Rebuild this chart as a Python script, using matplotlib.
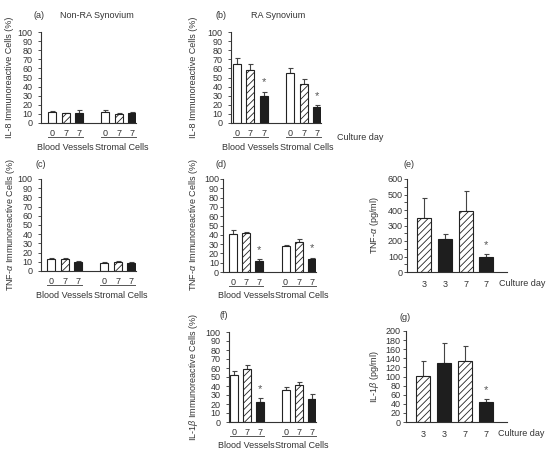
import matplotlib
matplotlib.use("Agg")
import matplotlib.pyplot as plt
import matplotlib.transforms as mtransforms

plt.rcParams['font.family'] = ['Liberation Sans', 'DejaVu Sans']
plt.rcParams['hatch.linewidth'] = 0.6
plt.rcParams['mathtext.fontset'] = 'custom'
plt.rcParams['mathtext.it'] = 'Liberation Sans:italic'
plt.rcParams['mathtext.rm'] = 'Liberation Sans'

TXT = '#333333'
W, H = 549, 453

# categories
pct_days = ['0', '7', '7', '0', '7', '7']
pct_groups = ['Blood Vessels', 'Stromal Cells']
pg_days = ['3', '3', '7', '7']

# (a) IL-8, non-RA synovium
a_vals = [12.5, 10.5, 11.5, 12.5, 10.0, 10.5]
a_err = [1.0, 1.0, 2.5, 1.5, 1.0, 1.5]
# (b) IL-8, RA synovium
b_vals = [65, 58, 30, 55, 43, 18]
b_err = [6.5, 6.5, 4.5, 5.0, 5.0, 1.5]
b_star = [2, 5]
# (c) TNF-a, non-RA
c_vals = [12.7, 12.7, 10.2, 8.7, 10.2, 9.1]
c_err = [1.0, 1.0, 1.0, 0.8, 0.8, 0.8]
# (d) TNF-a, RA
d_vals = [40.5, 41.5, 11.5, 27.5, 32.5, 13.5]
d_err = [4.5, 2.0, 2.0, 1.0, 3.0, 2.0]
d_star = [2, 5]
# (e) TNF-a pg/ml
e_vals = [347, 210, 394, 94]
e_err = [129, 33, 130, 19]
e_star = [3]
# (f) IL-1b, RA
f_vals = [52, 59, 22, 36, 41, 26]
f_err = [5.0, 4.5, 4.5, 2.5, 3.5, 5.5]
f_star = [2]
# (g) IL-1b pg/ml
g_vals = [102, 130, 133, 43]
g_err = [31, 43, 35, 7]
g_star = [3]

pct_x = [0, 1, 2, 4, 5, 6]
pct_style = ['white', 'hatch', 'black'] * 2
pg_x = [0, 1, 2, 3]
pg_style = ['hatch', 'black', 'hatch', 'black']

fig = plt.figure(figsize=(W / 100, H / 100), dpi=100)


def make_ax(x0, top, x1, bottom):
    return fig.add_axes([x0 / W, 1 - bottom / H, (x1 - x0) / W, (bottom - top) / H])


def draw_bars(ax, xs, vals, errs, styles, stars, width):
    for x, v, e, s in zip(xs, vals, errs, styles):
        if s == 'white':
            ax.bar(x, v, width, color='white', edgecolor='#222222', linewidth=0.8, zorder=2)
        elif s == 'hatch':
            ax.bar(x, v, width, color='white', edgecolor='#222222', hatch='/////',
                   linewidth=0.8, zorder=2)
        else:
            ax.bar(x, v, width, color='#1e1e1e', edgecolor='#1e1e1e', linewidth=0.8, zorder=2)
        ax.errorbar(x, v, yerr=[[0], [e]], fmt='none', ecolor='#444444',
                    elinewidth=0.8, capsize=1.8, capthick=0.8, zorder=1)
    for i in stars:
        ax.annotate('*', xy=(xs[i], vals[i] + errs[i]), xytext=(0, 3),
                    textcoords='offset points', ha='center', va='bottom',
                    fontsize=8, color='#555555')


def style_ax(ax, ymax, ystep, xlim, pad, minor=None):
    ax.set_xlim(*xlim)
    ax.set_ylim(0, ymax)
    ax.set_yticks(range(0, ymax + 1, ystep))
    if minor:
        ax.set_yticks(range(0, ymax + 1, minor), minor=True)
        ax.tick_params(axis='y', which='minor', length=2.0, width=0.6, color='#333333')
    for s in ['top', 'right']:
        ax.spines[s].set_visible(False)
    for s in ['left', 'bottom']:
        ax.spines[s].set_color('#333333')
        ax.spines[s].set_linewidth(0.8)
    ax.tick_params(axis='y', length=2.0, width=0.6, color='#333333', pad=pad,
                   labelsize=6.5, labelcolor=TXT)
    ax.set_facecolor('none')


def pct_panel(ax, vals, errs, stars, xlim, pad, height):
    draw_bars(ax, pct_x, vals, errs, pct_style, stars, 0.6)
    style_ax(ax, 100, 10, xlim, pad)
    ax.set_xticks(pct_x)
    ax.set_xticklabels(pct_days)
    ax.tick_params(axis='x', length=0, pad=4.3, labelsize=6.5, labelcolor=TXT)
    tr = ax.get_xaxis_transform()
    line_tr = mtransforms.offset_copy(tr, fig=fig, y=-14, units='dots')
    lab_tr = mtransforms.offset_copy(tr, fig=fig, y=-24, units='dots')
    for g, (lo, hi, cx) in enumerate([(-0.3, 2.3, 1.0), (3.7, 6.3, 5.2)]):
        ax.plot([lo, hi], [0, 0], color='#555555', lw=0.7, transform=line_tr, clip_on=False)
        ax.text(cx, 0, pct_groups[g], transform=lab_tr, ha='center', va='center',
                fontsize=6.5, color=TXT)


def pg_panel(ax, vals, errs, stars, ymax, ystep, minor, pad):
    draw_bars(ax, pg_x, vals, errs, pg_style, stars, 0.68)
    style_ax(ax, ymax, ystep, (-0.83, 4.0), pad, minor)
    ax.set_xticks(pg_x)
    ax.set_xticklabels(pg_days)
    ax.tick_params(axis='x', length=0, pad=6, labelsize=6.5, labelcolor=TXT)


def label(x, y, s, **kw):
    fig.text(x / W, 1 - y / H, s, fontsize=6.5, color=TXT, ha=kw.pop('ha', 'left'),
             va='center', **kw)


# (a)
ax = make_ax(41, 32, 136, 123)
pct_panel(ax, a_vals, a_err, [], (-0.85, 6.3), 4, 91)
label(34, 16, '(a)')
label(97, 16, 'Non-RA Synovium', ha='center')
label(10, 77, 'IL-8 Immunoreactive Cells (%)', ha='center', rotation=90)

# (b)
ax = make_ax(231, 32, 321, 123)
pct_panel(ax, b_vals, b_err, b_star, (-0.45, 6.3), 4, 91)
label(215, 16, '(b)')
label(278, 16, 'RA Synovium', ha='center')
label(193, 77, 'IL-8 Immunoreactive Cells (%)', ha='center', rotation=90)
label(337, 137, 'Culture day')

# (c)
ax = make_ax(41, 179, 136, 271)
pct_panel(ax, c_vals, c_err, [], (-0.77, 6.37), 4, 92)
label(35, 164, '(c)')
label(11, 225, r'TNF-$\mathit{\alpha}$ Immunoreactive Cells (%)', ha='center', rotation=90)

# (d)
ax = make_ax(223, 179, 316, 272)
pct_panel(ax, d_vals, d_err, d_star, (-0.73, 6.3), 1, 93)
label(216, 164, '(d)')
label(193, 225, r'TNF-$\mathit{\alpha}$ Immunoreactive Cells (%)', ha='center', rotation=90)

# (e)
ax = make_ax(407, 179, 507, 272)
pg_panel(ax, e_vals, e_err, e_star, 600, 100, 50, 1)
label(403, 164, '(e)')
label(374, 225, r'TNF-$\mathit{\alpha}$ (pg/ml)', ha='center', rotation=90)
label(499, 283, 'Culture day')

# (f)
ax = make_ax(229, 332, 316, 422)
pct_panel(ax, f_vals, f_err, f_star, (-0.36, 6.3), 4, 90)
label(219, 316, '(f)')
label(193, 377, r'IL-1$\mathit{\beta}$ Immunoreactive Cells (%)', ha='center', rotation=90)

# (g)
ax = make_ax(406, 331, 507, 422)
pg_panel(ax, g_vals, g_err, g_star, 200, 20, None, 2)
label(400, 317, '(g)')
label(374, 377, r'IL-1$\mathit{\beta}$ (pg/ml)', ha='center', rotation=90)
label(498, 434, 'Culture day')

fig.savefig('out.png', dpi=100)
